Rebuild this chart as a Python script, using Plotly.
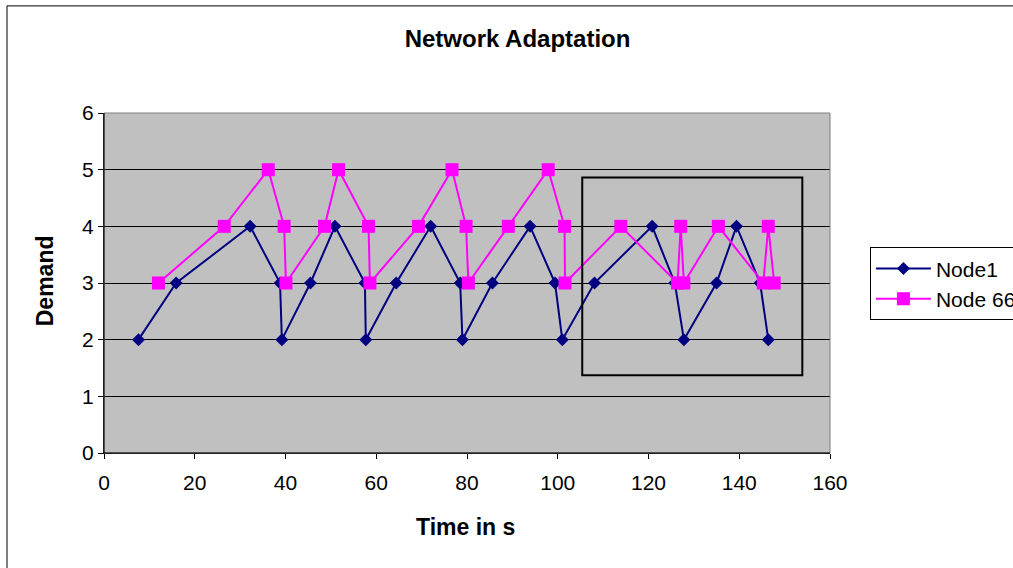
import plotly.graph_objects as go

# Data
node1_t = [7.6, 15.9, 32.2, 38.8, 39.2, 45.5, 50.9, 57.5, 57.7, 64.4, 72.0, 78.5, 79.0,
           85.6, 93.9, 99.4, 101.0, 108.1, 120.8, 125.8, 127.8, 135.0, 139.4, 144.6, 146.4]
node1_d = [2, 3, 4, 3, 2, 3, 4, 3, 2, 3, 4, 3, 2, 3, 4, 3, 2, 3, 4, 3, 2, 3, 4, 3, 2]

node66_t = [12.0, 26.5, 36.2, 39.7, 40.1, 48.6, 51.7, 58.3, 58.6, 69.3, 76.7, 79.8, 80.3,
            89.1, 97.9, 101.5, 101.6, 113.9, 126.4, 127.1, 127.8, 135.4, 145.3, 146.4, 147.7]
node66_d = [3, 4, 5, 4, 3, 4, 5, 4, 3, 4, 5, 4, 3, 4, 5, 4, 3, 4, 3, 4, 3, 4, 3, 4, 3]

x_ticks = [0, 20, 40, 60, 80, 100, 120, 140, 160]
y_ticks = [0, 1, 2, 3, 4, 5, 6]

# highlighted region (data coords)
box_t = [105.4, 153.9]
box_d = [1.37, 4.86]

FONT = "Arial, Liberation Sans, sans-serif"

fig = go.Figure()
fig.add_trace(go.Scatter(
    x=node1_t, y=node1_d, name="Node1", mode="lines+markers",
    line=dict(color="#000080", width=2),
    marker=dict(symbol="diamond", size=10, color="#000080"),
))
fig.add_trace(go.Scatter(
    x=node66_t, y=node66_d, name="Node 66", mode="lines+markers",
    line=dict(color="#FF00FF", width=2),
    marker=dict(symbol="square", size=13, color="#FF00FF"),
))

fig.update_layout(
    width=1013, height=568,
    margin=dict(l=104, r=183, t=113, b=115, autoexpand=False),
    paper_bgcolor="white", plot_bgcolor="#C0C0C0",
    font=dict(family=FONT, size=21, color="black"),
    title=dict(text="<b>Network Adaptation</b>", x=0.5696, xref="paper", xanchor="center",
               y=1 - 39 / 568, yref="container", yanchor="middle",
               font=dict(family=FONT, size=24, color="black")),
    showlegend=True,
    legend=dict(x=1.055, y=0.605, xanchor="left", yanchor="top",
                bgcolor="white", bordercolor="black", borderwidth=1,
                font=dict(family=FONT, size=21, color="black"),
                itemwidth=55, tracegroupgap=0),
)

fig.update_xaxes(range=[0, 160], tickvals=x_ticks, ticks="outside", ticklen=5,
                 tickcolor="black", tickwidth=1, showgrid=False, zeroline=False,
                 showline=True, linecolor="black", linewidth=1, ticklabelstandoff=6,
                 tickfont=dict(family=FONT, size=21, color="black"))
fig.update_yaxes(range=[0, 6], tickvals=y_ticks, ticks="outside", ticklen=5,
                 tickcolor="black", tickwidth=1, showgrid=True, gridcolor="black",
                 gridwidth=1, zeroline=False,
                 showline=True, linecolor="black", linewidth=1,
                 tickfont=dict(family=FONT, size=21, color="black"))

# gray plot-area border (top/right)
fig.add_shape(type="rect", xref="x domain", yref="y domain", x0=0, x1=1, y0=0, y1=1,
              line=dict(color="#808080", width=1), layer="above")
# redraw left/bottom axis in black over border
fig.add_shape(type="line", xref="x domain", yref="y domain", x0=0, x1=0, y0=0, y1=1,
              line=dict(color="black", width=1), layer="above")
fig.add_shape(type="line", xref="x domain", yref="y domain", x0=0, x1=1, y0=0, y1=0,
              line=dict(color="black", width=1), layer="above")

# highlight rectangle
fig.add_shape(type="rect", xref="x", yref="y", x0=box_t[0], x1=box_t[1],
              y0=box_d[0], y1=box_d[1], line=dict(color="black", width=2), layer="above")

# outer chart border
fig.add_shape(type="rect", xref="paper", yref="paper", x0=-0.1336, x1=2.0, y0=-1.0, y1=1.315,
              line=dict(color="black", width=1), layer="above")

# axis titles
fig.add_annotation(text="<b>Time in s</b>", xref="paper", yref="paper", x=0.498, y=-0.2165,
                   xanchor="center", yanchor="middle", showarrow=False,
                   font=dict(family=FONT, size=23, color="black"))
fig.add_annotation(text="<b>Demand</b>", xref="paper", yref="paper", x=-0.0813, y=0.508,
                   xanchor="center", yanchor="middle", showarrow=False, textangle=-90,
                   font=dict(family=FONT, size=23, color="black"))

fig.write_html("out.html")
